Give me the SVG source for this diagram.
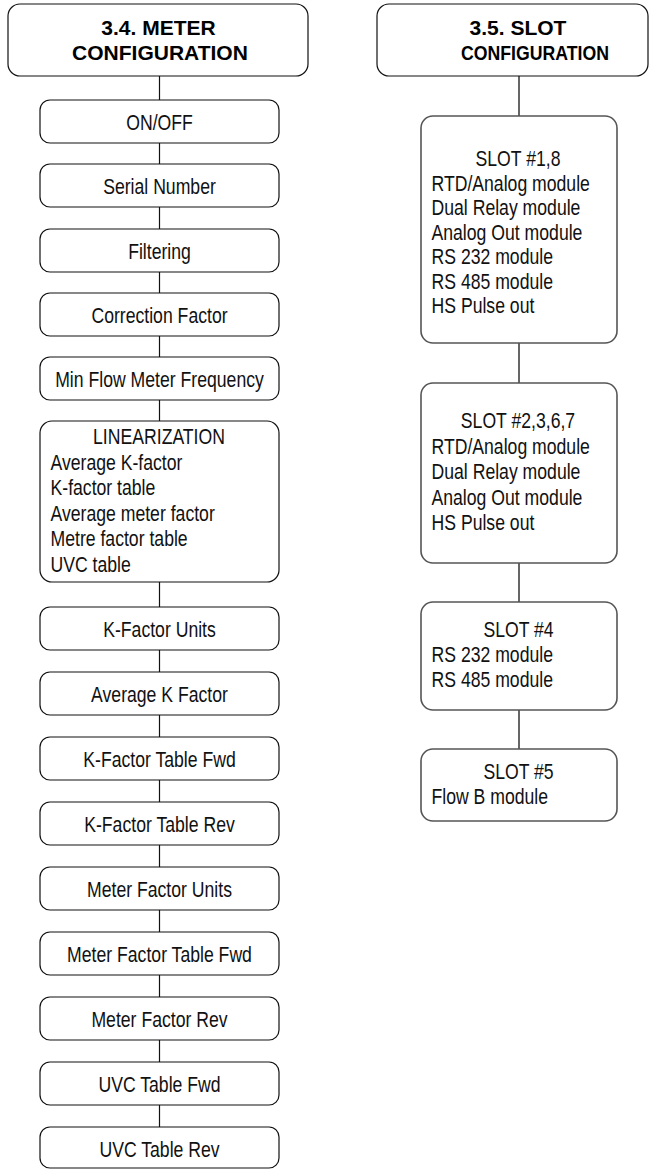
<svg xmlns="http://www.w3.org/2000/svg" width="650" height="1169" viewBox="0 0 650 1169">
<style>
.bg{fill:#ffffff}
.lbox{fill:#ffffff;stroke:#111111;stroke-width:1.2}
.rbox{fill:#ffffff;stroke:#555555;stroke-width:1.6}
.lcon{stroke:#111111;stroke-width:1.2;fill:none}
.rcon{stroke:#666666;stroke-width:2;fill:none}
.title{font-family:"Liberation Sans",Arial,sans-serif;font-weight:bold;font-size:21px;fill:#000000}
.t{font-family:"Liberation Sans",Arial,sans-serif;font-size:21.5px;fill:#111111}
.c{text-anchor:middle}
</style>
<rect class="bg" x="0" y="0" width="650" height="1169"/>
<g id="connectors">
<line class="lcon" x1="159.5" y1="76" x2="159.5" y2="100"/>
<line class="lcon" x1="159.5" y1="143" x2="159.5" y2="164"/>
<line class="lcon" x1="159.5" y1="207" x2="159.5" y2="229"/>
<line class="lcon" x1="159.5" y1="272" x2="159.5" y2="293"/>
<line class="lcon" x1="159.5" y1="336" x2="159.5" y2="357"/>
<line class="lcon" x1="159.5" y1="400" x2="159.5" y2="421"/>
<line class="lcon" x1="159.5" y1="582" x2="159.5" y2="607"/>
<line class="lcon" x1="159.5" y1="650" x2="159.5" y2="672"/>
<line class="lcon" x1="159.5" y1="715" x2="159.5" y2="737"/>
<line class="lcon" x1="159.5" y1="780" x2="159.5" y2="802"/>
<line class="lcon" x1="159.5" y1="845" x2="159.5" y2="867"/>
<line class="lcon" x1="159.5" y1="910" x2="159.5" y2="932"/>
<line class="lcon" x1="159.5" y1="975" x2="159.5" y2="997"/>
<line class="lcon" x1="159.5" y1="1040" x2="159.5" y2="1062"/>
<line class="lcon" x1="159.5" y1="1105" x2="159.5" y2="1127"/>
<line class="rcon" x1="519" y1="76" x2="519" y2="116"/>
<line class="rcon" x1="519" y1="343" x2="519" y2="383"/>
<line class="rcon" x1="519" y1="563" x2="519" y2="602"/>
<line class="rcon" x1="519" y1="710" x2="519" y2="749"/>
</g>
<g id="meter-config">
<rect class="lbox" x="8" y="4" width="300" height="72" rx="12"/>
<text class="title c" x="158.5" y="35">3.4. METER</text>
<text class="title c" x="160" y="60">CONFIGURATION</text>
</g>
<g id="on-off"><rect class="lbox" x="40" y="100" width="239" height="43" rx="10"/><text class="t c" transform="translate(159.5 130) scale(0.82 1)">ON/OFF</text></g>
<g id="serial-number"><rect class="lbox" x="40" y="164" width="239" height="43" rx="10"/><text class="t c" transform="translate(159.5 194) scale(0.82 1)">Serial Number</text></g>
<g id="filtering"><rect class="lbox" x="40" y="229" width="239" height="43" rx="10"/><text class="t c" transform="translate(159.5 259) scale(0.82 1)">Filtering</text></g>
<g id="correction-factor"><rect class="lbox" x="40" y="293" width="239" height="43" rx="10"/><text class="t c" transform="translate(159.5 323) scale(0.82 1)">Correction Factor</text></g>
<g id="min-flow"><rect class="lbox" x="40" y="357" width="239" height="43" rx="10"/><text class="t c" transform="translate(159.5 387) scale(0.82 1)">Min Flow Meter Frequency</text></g>
<g id="linearization">
<rect class="lbox" x="40" y="421" width="239" height="161" rx="12"/>
<text class="t c" transform="translate(159 444) scale(0.82 1)">LINEARIZATION</text>
<text class="t" transform="translate(50.5 469.5) scale(0.82 1)">Average K-factor</text>
<text class="t" transform="translate(50.5 495) scale(0.82 1)">K-factor table</text>
<text class="t" transform="translate(50.5 520.5) scale(0.82 1)">Average meter factor</text>
<text class="t" transform="translate(50.5 546) scale(0.82 1)">Metre factor table</text>
<text class="t" transform="translate(50.5 571.5) scale(0.82 1)">UVC table</text>
</g>
<g id="k-factor-units"><rect class="lbox" x="40" y="607" width="239" height="43" rx="10"/><text class="t c" transform="translate(159.5 637) scale(0.82 1)">K-Factor Units</text></g>
<g id="average-k-factor"><rect class="lbox" x="40" y="672" width="239" height="43" rx="10"/><text class="t c" transform="translate(159.5 702) scale(0.82 1)">Average K Factor</text></g>
<g id="k-factor-table-fwd"><rect class="lbox" x="40" y="737" width="239" height="43" rx="10"/><text class="t c" transform="translate(159.5 767) scale(0.82 1)">K-Factor Table Fwd</text></g>
<g id="k-factor-table-rev"><rect class="lbox" x="40" y="802" width="239" height="43" rx="10"/><text class="t c" transform="translate(159.5 832) scale(0.82 1)">K-Factor Table Rev</text></g>
<g id="meter-factor-units"><rect class="lbox" x="40" y="867" width="239" height="43" rx="10"/><text class="t c" transform="translate(159.5 897) scale(0.82 1)">Meter Factor Units</text></g>
<g id="meter-factor-table-fwd"><rect class="lbox" x="40" y="932" width="239" height="43" rx="10"/><text class="t c" transform="translate(159.5 962) scale(0.82 1)">Meter Factor Table Fwd</text></g>
<g id="meter-factor-rev"><rect class="lbox" x="40" y="997" width="239" height="43" rx="10"/><text class="t c" transform="translate(159.5 1027) scale(0.82 1)">Meter Factor Rev</text></g>
<g id="uvc-table-fwd"><rect class="lbox" x="40" y="1062" width="239" height="43" rx="10"/><text class="t c" transform="translate(159.5 1092) scale(0.82 1)">UVC Table Fwd</text></g>
<g id="uvc-table-rev"><rect class="lbox" x="40" y="1127" width="239" height="41" rx="10"/><text class="t c" transform="translate(159.5 1157) scale(0.82 1)">UVC Table Rev</text></g>
<g id="slot-config">
<rect class="lbox" x="377" y="4" width="271" height="72" rx="12"/>
<text class="title c" x="518" y="35">3.5. SLOT</text>
<text class="title c" x="535" y="60" textLength="148" lengthAdjust="spacingAndGlyphs">CONFIGURATION</text>
</g>
<g id="slot-1-8">
<rect class="rbox" x="421" y="116" width="196" height="227" rx="12"/>
<text class="t c" transform="translate(518 166) scale(0.82 1)">SLOT #1,8</text>
<text class="t" transform="translate(431.5 190.5) scale(0.82 1)">RTD/Analog module</text>
<text class="t" transform="translate(431.5 215) scale(0.82 1)">Dual Relay module</text>
<text class="t" transform="translate(431.5 239.5) scale(0.82 1)">Analog Out module</text>
<text class="t" transform="translate(431.5 264) scale(0.82 1)">RS 232 module</text>
<text class="t" transform="translate(431.5 288.5) scale(0.82 1)">RS 485 module</text>
<text class="t" transform="translate(431.5 313) scale(0.82 1)">HS Pulse out</text>
</g>
<g id="slot-2-3-6-7">
<rect class="rbox" x="421" y="383" width="196" height="180" rx="12"/>
<text class="t c" transform="translate(518 428) scale(0.82 1)">SLOT #2,3,6,7</text>
<text class="t" transform="translate(431.5 453.5) scale(0.82 1)">RTD/Analog module</text>
<text class="t" transform="translate(431.5 479) scale(0.82 1)">Dual Relay module</text>
<text class="t" transform="translate(431.5 504.5) scale(0.82 1)">Analog Out module</text>
<text class="t" transform="translate(431.5 530) scale(0.82 1)">HS Pulse out</text>
</g>
<g id="slot-4">
<rect class="rbox" x="421" y="602" width="196" height="108" rx="12"/>
<text class="t c" transform="translate(518.5 636.5) scale(0.82 1)">SLOT #4</text>
<text class="t" transform="translate(431.5 661.5) scale(0.82 1)">RS 232 module</text>
<text class="t" transform="translate(431.5 687) scale(0.82 1)">RS 485 module</text>
</g>
<g id="slot-5">
<rect class="rbox" x="421" y="749" width="196" height="72" rx="12"/>
<text class="t c" transform="translate(518.5 779) scale(0.82 1)">SLOT #5</text>
<text class="t" transform="translate(431.5 803.5) scale(0.82 1)">Flow B module</text>
</g>
</svg>
